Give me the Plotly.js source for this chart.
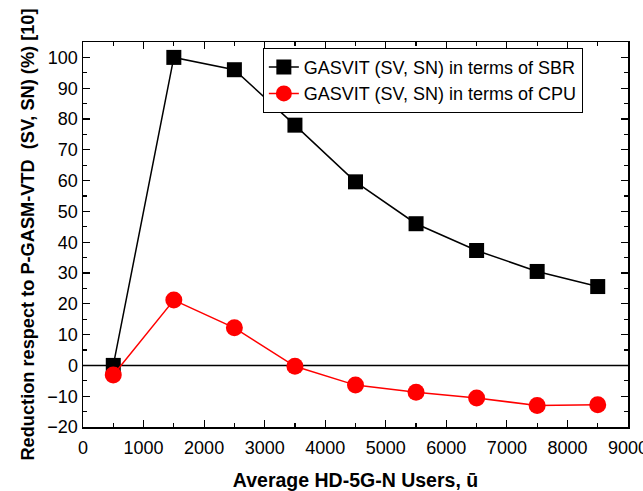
<!DOCTYPE html>
<html>
<head>
<script src="https://cdn.plot.ly/plotly-3.0.1.min.js"></script>
<style>html,body{margin:0;padding:0;background:#fff;}#chart{width:643px;height:491px;}</style>
</head>
<body>
<div id="chart"></div>
<script>
const users = [500, 1500, 2500, 3500, 4500, 5500, 6500, 7500, 8500];
const sbrReduction = [0, 100, 96, 78, 59.6, 46, 37.3, 30.5, 25.6];
const cpuReduction = [-3.1, 21.2, 12.2, -0.3, -6.4, -8.7, -10.6, -13, -12.8];
const seriesNames = ["GASVIT (SV, SN) in terms of SBR", "GASVIT (SV, SN) in terms of CPU"];

const font = "Arial, 'Liberation Sans', sans-serif";
const traces = [
  {x: users, y: sbrReduction, name: seriesNames[0], mode: "lines+markers",
   line: {color: "#000", width: 1.5}, marker: {symbol: "square", size: 15, color: "#000"}},
  {x: users, y: cpuReduction, name: seriesNames[1], mode: "lines+markers",
   line: {color: "#ff0000", width: 1.5}, marker: {symbol: "circle", size: 17, color: "#ff0000"}}
];
const axisCommon = {
  showgrid: false, zeroline: false, showline: true, linecolor: "#000", linewidth: 1.5,
  mirror: "ticks", ticks: "inside", ticklen: 7, tickwidth: 1.2, tickcolor: "#000",
  ticklabeloverflow: "allow",
  tickfont: {family: font, size: 18, color: "#000"}
};
const layout = {
  width: 643, height: 491,
  margin: {l: 83, r: 15, t: 42, b: 64},
  paper_bgcolor: "#fff", plot_bgcolor: "#fff",
  showlegend: true,
  legend: {x: 0.33, y: 0.985, xanchor: "left", yanchor: "top", bordercolor: "#000", borderwidth: 1,
           bgcolor: "#fff", font: {family: font, size: 18, color: "#000"}, tracegroupgap: 0},
  xaxis: Object.assign({}, axisCommon, {
    range: [0, 9000], dtick: 1000, tick0: 0, ticklabelstandoff: 4,
    minor: {dtick: 500, ticks: "inside", ticklen: 4, tickcolor: "#000", tickwidth: 1.2},
    title: {text: "<b>Average HD-5G-N Users, ū</b>", font: {family: font, size: 19.5, color: "#000"}, standoff: 16}
  }),
  yaxis: Object.assign({}, axisCommon, {
    range: [-20, 105], dtick: 10, tick0: 0,
    minor: {dtick: 5, ticks: "inside", ticklen: 4, tickcolor: "#000", tickwidth: 1.2},
    title: {text: "<b>Reduction respect to P-GASM-VTD  (SV, SN) (%) [10]</b>", font: {family: font, size: 18.2, color: "#000"}, standoff: 8}
  }),
  shapes: [{type: "line", xref: "paper", x0: 0, x1: 1, yref: "y", y0: 0, y1: 0, line: {color: "#000", width: 1.5}, layer: "below"}]
};
Plotly.newPlot("chart", traces, layout, {displayModeBar: false, staticPlot: true});
</script>
</body>
</html>
